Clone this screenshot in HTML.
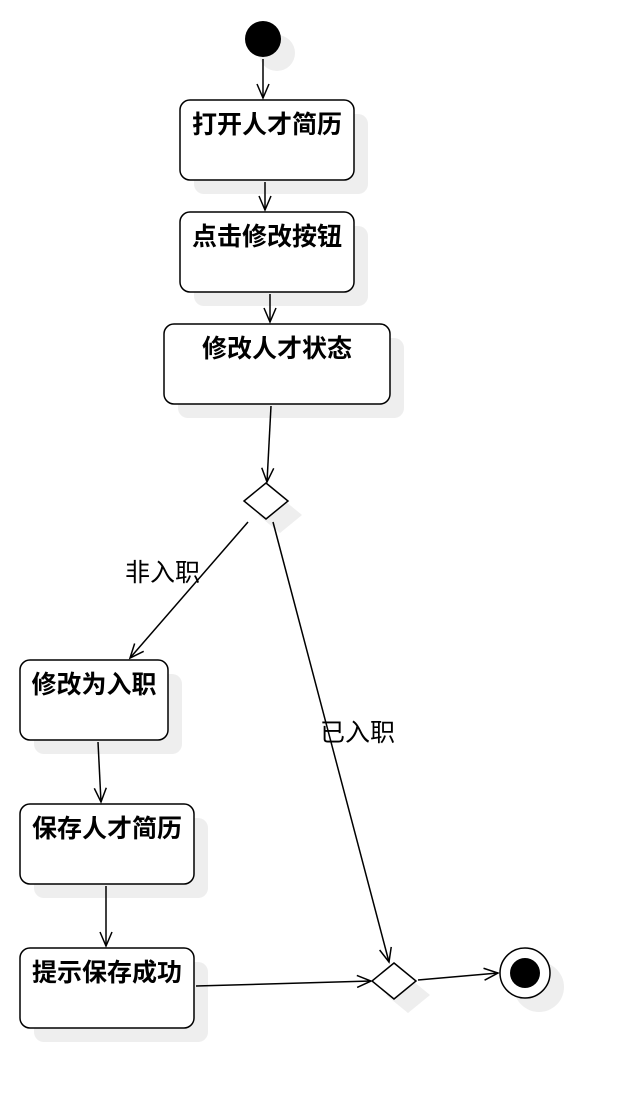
<!DOCTYPE html>
<html><head><meta charset="utf-8"><style>
html,body{margin:0;padding:0;background:#fff;}
svg{display:block;}
text{font-family:"Liberation Sans","Noto Sans CJK SC",sans-serif;}
.b{font-weight:bold;font-size:25px;}
.l{font-size:25px;}
</style></head><body>
<svg width="630" height="1108" viewBox="0 0 630 1108" xmlns="http://www.w3.org/2000/svg">
<defs>
<marker id="a" markerWidth="20" markerHeight="20" refX="15" refY="7" orient="auto" markerUnits="userSpaceOnUse">
<path d="M1,1 L15,7 L1,13" fill="none" stroke="#000" stroke-width="1.5"/>
</marker>
</defs>
<g fill="#eeeeee">
<circle cx="277" cy="53" r="18"/>
<rect x="194" y="114" width="174" height="80" rx="10"/>
<rect x="194" y="226" width="174" height="80" rx="10"/>
<rect x="178" y="338" width="226" height="80" rx="10"/>
<polygon points="280,497 302,515 280,533 258,515"/>
<rect x="34" y="674" width="148" height="80" rx="10"/>
<rect x="34" y="818" width="174" height="80" rx="10"/>
<rect x="34" y="962" width="174" height="80" rx="10"/>
<polygon points="408,977 430,995 408,1013 386,995"/>
<circle cx="539" cy="987" r="25"/>
</g>
<circle cx="263" cy="39" r="18" fill="#000"/>
<g fill="#fff" stroke="#000" stroke-width="1.5">
<rect x="180" y="100" width="174" height="80" rx="10"/>
<rect x="180" y="212" width="174" height="80" rx="10"/>
<rect x="164" y="324" width="226" height="80" rx="10"/>
<polygon points="266,483 288,501 266,519 244,501"/>
<rect x="20" y="660" width="148" height="80" rx="10"/>
<rect x="20" y="804" width="174" height="80" rx="10"/>
<rect x="20" y="948" width="174" height="80" rx="10"/>
<polygon points="394,963 416,981 394,999 372,981"/>
<circle cx="525" cy="973" r="25"/>
</g>
<circle cx="525" cy="973" r="15" fill="#000"/>
<g stroke="#000" stroke-width="1.5" fill="none" marker-end="url(#a)">
<line x1="263" y1="59" x2="263" y2="98"/>
<line x1="265" y1="182" x2="265" y2="210"/>
<line x1="270" y1="294" x2="270" y2="322"/>
<line x1="271" y1="406" x2="267" y2="482"/>
<line x1="248" y1="522" x2="130" y2="658"/>
<line x1="273" y1="522" x2="389" y2="962"/>
<line x1="98" y1="742" x2="101" y2="802"/>
<line x1="106" y1="886" x2="106" y2="946"/>
<line x1="196" y1="986" x2="371" y2="981"/>
<line x1="418" y1="980" x2="498" y2="973"/>
</g>
<g class="b" text-anchor="middle">
<text x="267" y="133">打开人才简历</text>
<text x="267" y="245">点击修改按钮</text>
<text x="277" y="357">修改人才状态</text>
<text x="94" y="693">修改为入职</text>
<text x="107" y="837">保存人才简历</text>
<text x="107" y="981">提示保存成功</text>
</g>
<text class="l" x="125" y="581">非入职</text>
<text class="l" x="320" y="741">已入职</text>
</svg>
</body></html>
